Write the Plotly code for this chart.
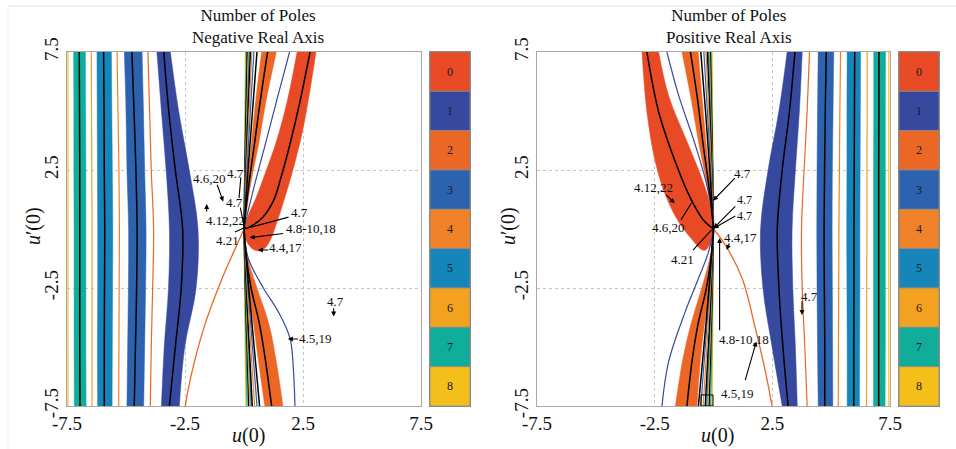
import plotly.graph_objects as go

FONT = "Liberation Serif"
W, H = 956, 449

# ---------------- colour key (number of poles) ----------------
POLE_COUNTS = ["0", "1", "2", "3", "4", "5", "6", "7", "8"]
POLE_COLORS = ["#e84a25", "#37499e", "#ec6726", "#2c62ae", "#ef8228",
               "#1585ba", "#f3a21f", "#10ad9a", "#f4bf1b"]

TICKS = [-7.5, -2.5, 2.5, 7.5]
TICK_TEXT = ["-7.5", "-2.5", "2.5", "7.5"]

# sample heights u'(0) for the far-field bands
V_FAR = [7.5, 5.0, 2.5, 0.0, -2.5, -5.0, -7.5]

# ---------------- Negative real axis (left panel) ----------------
NEG_L8 = [-7.46, -7.46, -7.46, -7.46, -7.46, -7.46, -7.46]
NEG_B7_L = [-7.22, -7.21, -7.21, -7.20, -7.20, -7.20, -7.19]
NEG_B7_R = [-6.72, -6.71, -6.70, -6.70, -6.70, -6.70, -6.69]
NEG_B7_C = [-6.98, -6.97, -6.96, -6.96, -6.96, -6.96, -6.95]
NEG_L6 = [-6.47, -6.46, -6.45, -6.44, -6.44, -6.44, -6.44]
NEG_B5_L = [-6.23, -6.22, -6.21, -6.20, -6.20, -6.21, -6.20]
NEG_B5_R = [-5.62, -5.60, -5.58, -5.56, -5.57, -5.58, -5.59]
NEG_B5_C = [-5.95, -5.93, -5.92, -5.90, -5.91, -5.92, -5.92]
NEG_L4 = [-5.38, -5.34, -5.30, -5.28, -5.29, -5.30, -5.31]
NEG_B3_L = [-5.07, -5.00, -4.96, -4.89, -4.90, -4.93, -4.96]
NEG_B3_R = [-4.32, -4.26, -4.21, -4.15, -4.17, -4.21, -4.25]
NEG_B3_C = [-4.75, -4.66, -4.58, -4.53, -4.55, -4.60, -4.65]
NEG_L2 = [-4.07, -4.00, -3.93, -3.83, -3.87, -3.93, -3.97]
NEG_B1_L = [-3.69, -3.50, -3.30, -3.16, -3.20, -3.38, -3.50]
NEG_B1_R = [-3.12, -2.77, -2.32, -1.95, -2.03, -2.51, -2.74]
NEG_B1_C = [-3.40, -3.19, -2.91, -2.60, -2.66, -2.91, -3.16]

NEG_UP_V = [0.0, 0.7, 2.0, 3.5, 5.5, 7.5]
NEG_UP_B2_L = [0.0, 0.04, 0.15, 0.30, 0.50, 0.75]
NEG_UP_B2_R = [0.0, 0.10, 0.30, 0.60, 0.95, 1.37]
NEG_UP_B2_C = [0.0, 0.07, 0.22, 0.43, 0.70, 1.00]
NEG_UP_BLUE = [0.0, 0.16, 0.48, 0.88, 1.40, 1.93]

NEG_LO_V = [0.0, -1.2, -2.5, -4.0, -5.5, -7.5]
NEG_LO_B2_L = [0.0, 0.05, 0.15, 0.40, 0.60, 0.88]
NEG_LO_B2_R = [0.0, 0.15, 0.55, 1.05, 1.35, 1.65]
NEG_LO_B2_C = [0.0, 0.10, 0.30, 0.65, 0.90, 1.17]
NEG_LO_BLUE_U = [0.0, 0.18, 0.82, 1.45, 1.95, 2.09, 2.16]
NEG_LO_BLUE_V = [0.0, -1.24, -2.5, -3.5, -4.63, -5.9, -7.5]
NEG_RED_LINE_U = [0.0, -0.44, -0.93, -1.71, -2.27, -2.49]
NEG_RED_LINE_V = [0.0, -0.98, -2.1, -4.22, -6.34, -7.5]

NEG_BLOB_U = [2.25, 1.85, 1.4, 0.95, 0.5, 0.15, 0.03, 0.04, 0.18, 0.42, 0.65,
              0.88, 1.1, 1.3, 1.5, 1.75, 2.1, 2.45, 2.75, 3.05]
NEG_BLOB_V = [7.5, 5.5, 3.8, 2.5, 1.3, 0.5, 0.1, -0.3, -0.65, -0.88, -0.93,
              -0.82, -0.5, 0.0, 0.6, 1.4, 2.6, 4.0, 5.6, 7.5]
NEG_BLOB_CU = [0.0, 0.3, 0.8, 1.25, 1.6, 1.95, 2.35, 2.8]
NEG_BLOB_CV = [0.0, 0.12, 0.5, 1.2, 2.3, 3.6, 5.3, 7.5]

THIN_UP_V = [0.0, 2.5, 5.0, 7.5]
THIN_LO_V = [0.0, -2.5, -5.0, -7.5]
THIN_COLS = [8, 7, -1, 6, 5, -1, 4, 3, -1]
NEG_UP_THIN = [[0, 0.02, 0.04, 0.06], [0, 0.03, 0.065, 0.10], [0, 0.04, 0.09, 0.14],
               [0, 0.055, 0.12, 0.18], [0, 0.065, 0.14, 0.22], [0, 0.08, 0.175, 0.27],
               [0, 0.10, 0.215, 0.33], [0, 0.13, 0.27, 0.42], [0, 0.17, 0.36, 0.55]]
NEG_LO_THIN = [[0, 0.025, 0.05, 0.08], [0, 0.04, 0.085, 0.13], [0, 0.06, 0.13, 0.20],
               [0, 0.075, 0.16, 0.25], [0, 0.09, 0.195, 0.30], [0, 0.10, 0.225, 0.35],
               [0, 0.135, 0.29, 0.45], [0, 0.165, 0.36, 0.55], [0, 0.2, 0.43, 0.66]]

# ---------------- Positive real axis (right panel) ----------------
POS_B1_L = [3.13, 2.78, 2.32, 2.00, 2.10, 2.49, 2.92]
POS_B1_R = [3.77, 3.65, 3.48, 3.34, 3.37, 3.48, 3.56]
POS_B1_C = [3.46, 3.23, 2.92, 2.71, 2.78, 2.95, 3.17]
POS_L2 = [4.08, 3.98, 3.85, 3.74, 3.77, 3.88, 3.98]
POS_B3_L = [4.45, 4.42, 4.40, 4.39, 4.40, 4.42, 4.45]
POS_B3_R = [5.11, 5.08, 5.05, 5.04, 5.05, 5.06, 5.07]
POS_B3_C = [4.79, 4.75, 4.72, 4.70, 4.71, 4.73, 4.73]
POS_L4 = [5.40, 5.37, 5.35, 5.33, 5.32, 5.31, 5.30]
POS_B5_L = [5.68, 5.67, 5.67, 5.66, 5.67, 5.68, 5.68]
POS_B5_R = [6.25, 6.24, 6.23, 6.22, 6.22, 6.21, 6.20]
POS_B5_C = [6.00, 5.99, 5.98, 5.97, 5.97, 5.96, 5.96]
POS_L6 = [6.53, 6.53, 6.52, 6.52, 6.51, 6.51, 6.50]
POS_B7_L = [6.81, 6.81, 6.80, 6.80, 6.80, 6.80, 6.80]
POS_B7_R = [7.31, 7.30, 7.30, 7.30, 7.30, 7.30, 7.29]
POS_B7_C = [7.03, 7.03, 7.02, 7.02, 7.02, 7.02, 7.02]
POS_L8 = [7.45, 7.45, 7.45, 7.45, 7.45, 7.45, 7.45]

POS_UP_B2_L = [0.0, -0.10, -0.30, -0.60, -0.95, -1.34]
POS_UP_B2_R = [0.0, -0.04, -0.15, -0.30, -0.48, -0.65]
POS_UP_B2_C = [0.0, -0.07, -0.22, -0.43, -0.68, -0.98]
POS_UP_BLUE_U = [0.0, -0.02, -0.28, -0.77, -1.48, -1.98]
POS_UP_BLUE_V = [0.0, 0.44, 1.85, 3.55, 5.66, 7.5]

POS_LO_B2_L = [0.0, -0.15, -0.50, -0.95, -1.30, -1.62]
POS_LO_B2_R = [0.0, -0.05, -0.15, -0.38, -0.55, -0.70]
POS_LO_B2_C = [0.0, -0.10, -0.30, -0.65, -0.90, -1.13]
POS_LO_BLUE_U = [0.0, -0.21, -0.64, -1.2, -1.91, -2.19]
POS_LO_BLUE_V = [0.0, -0.97, -2.1, -3.5, -5.63, -7.5]
POS_RED_LINE_U = [0.0, 0.51, 1.22, 1.78, 2.21, 2.49]
POS_RED_LINE_V = [0.0, -0.69, -2.1, -4.22, -6.06, -7.5]

POS_BLOB_U = [-2.33, -1.91, -1.06, -0.49, -0.1, 0.0, -0.05, -0.18, -0.36, -0.55,
              -0.91, -1.48, -2.04, -2.47, -2.83, -3.04]
POS_BLOB_V = [7.5, 5.66, 3.55, 2.13, 0.9, 0.05, -0.35, -0.7, -0.9, -0.85,
              -0.45, 0.3, 1.43, 2.84, 4.96, 7.5]
POS_BLOB_CU = [0.0, -0.43, -1.0, -1.62, -2.33, -2.83]
POS_BLOB_CV = [0.0, 0.38, 1.35, 2.84, 4.96, 7.5]

POS_UP_THIN = [[0, -0.02, -0.04, -0.06], [0, -0.03, -0.065, -0.10], [0, -0.04, -0.09, -0.14],
               [0, -0.05, -0.11, -0.17], [0, -0.06, -0.13, -0.21], [0, -0.075, -0.16, -0.26],
               [0, -0.09, -0.2, -0.32], [0, -0.12, -0.26, -0.41], [0, -0.16, -0.34, -0.54]]
POS_LO_THIN = [[0, -0.02, -0.04, -0.06], [0, -0.035, -0.075, -0.12], [0, -0.055, -0.12, -0.19],
               [0, -0.07, -0.15, -0.24], [0, -0.085, -0.185, -0.29], [0, -0.1, -0.22, -0.35],
               [0, -0.13, -0.28, -0.44], [0, -0.16, -0.35, -0.54], [0, -0.19, -0.41, -0.64]]

# ---------------- equation labels ----------------
NEG_LABELS = [("4.6,20", -1.48, 2.16), ("4.7", -0.38, 2.37), ("4.7", -0.42, 1.14),
              ("4.12,22", -0.80, 0.34), ("4.21", -0.72, -0.47), ("4.7", 2.37, 0.72),
              ("4.8-10,18", 2.84, 0.04), ("4.4,17", 1.74, -0.80), ("4.7", 3.86, -3.09),
              ("4.5,19", 3.05, -4.62)]
# (tail u, tail v, head u, head v, arrowhead?)
NEG_ARROWS = [(-1.16, 1.94, -0.88, 1.16, 1), (-0.13, 2.25, -0.21, 1.31, 0),
              (-0.17, 0.97, 0.0, 0.13, 0), (-1.58, 0.68, -1.58, 1.06, 1),
              (-0.45, -0.16, 0.07, 0.07, 0), (1.95, 0.52, 0.12, 0.03, 0),
              (1.72, -0.18, 0.24, -0.37, 1), (1.09, -0.89, 0.59, -0.89, 1),
              (3.80, -3.29, 3.80, -3.71, 1), (2.36, -4.66, 1.86, -4.66, 1)]
POS_LABELS = [("4.7", 1.25, 2.37), ("4.12,22", -2.53, 1.74), ("4.6,20", -1.93, 0.08),
              ("4.7<br>4.7", 1.30, 0.91), ("4.21", -1.30, -1.31),
              ("4.4,17", 1.13, -0.34), ("4.8-10,18", 1.30, -4.70), ("4.5,19", 1.04, -6.95),
              ("4.7", 4.10, -2.88)]
POS_ARROWS = [(0.97, 2.22, -0.02, 1.20, 1), (-2.07, 1.51, -1.65, 1.09, 1),
              (-1.42, 0.33, -0.93, 1.11, 0), (0.99, 1.02, 0.0, 0.03, 1),
              (0.99, 0.59, 0.0, 0.03, 1), (-0.93, -0.96, -0.08, -0.04, 0),
              (0.70, -0.54, 0.56, -0.89, 1), (0.26, -4.35, 0.26, -0.38, 1),
              (1.33, -6.47, 1.82, -4.77, 1), (3.76, -3.00, 3.76, -3.64, 1)]

fig = go.Figure()


def col(i):
    return "black" if i < 0 else POLE_COLORS[i]


def band(xa, ya, left, right, vs, ci):
    fig.add_trace(go.Scatter(x=left, y=vs, mode="lines",
                             line=dict(color=col(ci), width=0.5, shape="spline"),
                             xaxis=xa, yaxis=ya, hoverinfo="skip", showlegend=False))
    fig.add_trace(go.Scatter(x=right, y=vs, mode="lines", fill="tonextx", fillcolor=col(ci),
                             line=dict(color=col(ci), width=0.5, shape="spline"),
                             xaxis=xa, yaxis=ya, hoverinfo="skip", showlegend=False))


def poly(xa, ya, u, v, ci):
    fig.add_trace(go.Scatter(x=u, y=v, mode="lines",
                             fill="toself", fillcolor=col(ci),
                             line=dict(color=col(ci), width=0.5, shape="spline"),
                             xaxis=xa, yaxis=ya, hoverinfo="skip", showlegend=False))


def curve(xa, ya, u, v, ci, w=1.2):
    fig.add_trace(go.Scatter(x=u, y=v, mode="lines",
                             line=dict(color=col(ci), width=w, shape="spline"),
                             xaxis=xa, yaxis=ya, hoverinfo="skip", showlegend=False))


def panel(xa, ya, far, fans):
    for L, R, C, ci in far["bands"]:
        band(xa, ya, L, R, V_FAR, ci)
    for U, ci in far["lines"]:
        curve(xa, ya, U, V_FAR, ci, 1.2)
    for L, R, C, ci in far["bands"]:
        curve(xa, ya, C, V_FAR, -1, 1.5)
    poly(xa, ya, fans["blob_u"], fans["blob_v"], 0)
    band(xa, ya, fans["up_l"], fans["up_r"], NEG_UP_V, 2)
    band(xa, ya, fans["lo_l"], fans["lo_r"], NEG_LO_V, 2)
    for U, ci in zip(fans["up_thin"], THIN_COLS):
        curve(xa, ya, U, THIN_UP_V, ci, 1.5 if ci < 0 else 1.2)
    for U, ci in zip(fans["lo_thin"], THIN_COLS):
        curve(xa, ya, U, THIN_LO_V, ci, 1.5 if ci < 0 else 1.2)
    curve(xa, ya, fans["up_blue_u"], fans["up_blue_v"], 1, 1.2)
    curve(xa, ya, fans["lo_blue_u"], fans["lo_blue_v"], 1, 1.2)
    curve(xa, ya, fans["red_u"], fans["red_v"], 2, 1.3)
    curve(xa, ya, fans["up_c"], NEG_UP_V, -1, 1.5)
    curve(xa, ya, fans["lo_c"], NEG_LO_V, -1, 1.5)
    curve(xa, ya, fans["blob_cu"], fans["blob_cv"], -1, 1.5)


panel("x", "y",
      dict(bands=[(NEG_B7_L, NEG_B7_R, NEG_B7_C, 7), (NEG_B5_L, NEG_B5_R, NEG_B5_C, 5),
                  (NEG_B3_L, NEG_B3_R, NEG_B3_C, 3), (NEG_B1_L, NEG_B1_R, NEG_B1_C, 1)],
           lines=[(NEG_L8, 8), (NEG_L6, 6), (NEG_L4, 4), (NEG_L2, 2)]),
      dict(blob_u=NEG_BLOB_U, blob_v=NEG_BLOB_V, blob_cu=NEG_BLOB_CU, blob_cv=NEG_BLOB_CV,
           up_l=NEG_UP_B2_L, up_r=NEG_UP_B2_R, up_c=NEG_UP_B2_C,
           lo_l=NEG_LO_B2_L, lo_r=NEG_LO_B2_R, lo_c=NEG_LO_B2_C,
           up_thin=NEG_UP_THIN, lo_thin=NEG_LO_THIN,
           up_blue_u=NEG_UP_BLUE, up_blue_v=NEG_UP_V,
           lo_blue_u=NEG_LO_BLUE_U, lo_blue_v=NEG_LO_BLUE_V,
           red_u=NEG_RED_LINE_U, red_v=NEG_RED_LINE_V))

panel("x2", "y2",
      dict(bands=[(POS_B7_L, POS_B7_R, POS_B7_C, 7), (POS_B5_L, POS_B5_R, POS_B5_C, 5),
                  (POS_B3_L, POS_B3_R, POS_B3_C, 3), (POS_B1_L, POS_B1_R, POS_B1_C, 1)],
           lines=[(POS_L8, 8), (POS_L6, 6), (POS_L4, 4), (POS_L2, 2)]),
      dict(blob_u=POS_BLOB_U, blob_v=POS_BLOB_V, blob_cu=POS_BLOB_CU, blob_cv=POS_BLOB_CV,
           up_l=POS_UP_B2_L, up_r=POS_UP_B2_R, up_c=POS_UP_B2_C,
           lo_l=POS_LO_B2_L, lo_r=POS_LO_B2_R, lo_c=POS_LO_B2_C,
           up_thin=POS_UP_THIN, lo_thin=POS_LO_THIN,
           up_blue_u=POS_UP_BLUE_U, up_blue_v=POS_UP_BLUE_V,
           lo_blue_u=POS_LO_BLUE_U, lo_blue_v=POS_LO_BLUE_V,
           red_u=POS_RED_LINE_U, red_v=POS_RED_LINE_V))

# colour keys
for xa, ya in (("x3", "y3"), ("x4", "y4")):
    fig.add_trace(go.Bar(x=[0] * 9, y=[1] * 9, base=[8 - i for i in range(9)],
                         marker=dict(color=POLE_COLORS, line=dict(color="#8a8a8a", width=0.8)),
                         text=POLE_COUNTS, textposition="inside", insidetextanchor="middle",
                         textangle=0, textfont=dict(family=FONT, size=12, color="#1a1a2a"),
                         width=1, xaxis=xa, yaxis=ya, hoverinfo="skip", showlegend=False))


def px2x(p):
    return p / W


def px2y(p):
    return 1 - p / H


ax_common = dict(range=[-7.5, 7.5], tickvals=TICKS, ticktext=TICK_TEXT, showgrid=True,
                 gridcolor="#c4c4c4", griddash="dot", gridwidth=1, zeroline=False,
                 showline=True, linecolor="#a8a8a8", linewidth=1, mirror=True, ticks="",
                 automargin=False, tickfont=dict(family=FONT, size=19, color="#111"))
ydom = [px2y(406), px2y(52)]
cb_x = dict(range=[-0.5, 0.5], showticklabels=False, showgrid=False, zeroline=False,
            showline=True, linecolor="#8a8a8a", mirror=True, ticks="", automargin=False)
cb_y = dict(domain=ydom, range=[0, 9], showticklabels=False, showgrid=False, zeroline=False,
            showline=True, linecolor="#8a8a8a", mirror=True, ticks="", automargin=False)

annotations = []
shapes = []
for xr, yr, labels, arrows in (("x", "y", NEG_LABELS, NEG_ARROWS),
                               ("x2", "y2", POS_LABELS, POS_ARROWS)):
    for t, u, v in labels:
        annotations.append(dict(x=u, y=v, xref=xr, yref=yr, text=t, showarrow=False,
                                xanchor="center", yanchor="middle",
                                font=dict(family=FONT, size=12 if "<br>" in t else 13,
                                          color="#111")))
    for tu, tv, hu, hv, hd in arrows:
        annotations.append(dict(x=hu, y=hv, ax=tu, ay=tv, xref=xr, yref=yr, axref=xr,
                                ayref=yr, text="", showarrow=True, arrowhead=2 if hd else 0,
                                arrowsize=0.9, arrowwidth=1.1, arrowcolor="black", standoff=0))

for cx, ttl in ((258, "Number of Poles<br>Negative Real Axis"),
                (729, "Number of Poles<br>Positive Real Axis")):
    annotations.append(dict(x=px2x(cx), y=px2y(26.5), xref="paper", yref="paper", text=ttl,
                            xanchor="center", yanchor="middle", showarrow=False,
                            font=dict(family=FONT, size=17, color="#111")))

for cx in (248, 717):
    annotations.append(dict(x=px2x(cx), y=px2y(435), xref="paper", yref="paper",
                            text="<i>u</i>(0)", showarrow=False, xanchor="center",
                            yanchor="middle", font=dict(family=FONT, size=20, color="#111")))
for cx in (33, 508):
    annotations.append(dict(x=px2x(cx), y=px2y(226), xref="paper", yref="paper",
                            text="<i>u</i>′(0)", showarrow=False, textangle=-90,
                            xanchor="center", yanchor="middle",
                            font=dict(family=FONT, size=20, color="#111")))

shapes.append(dict(type="rect", xref="x2", yref="y2", x0=-0.53, x1=-0.02, y0=-7.5, y1=-7.03,
                   line=dict(color="black", width=1)))
shapes.append(dict(type="line", xref="paper", yref="paper", x0=px2x(8), x1=1,
                   y0=px2y(6), y1=px2y(6), line=dict(color="#e4e4e4", width=1)))
shapes.append(dict(type="line", xref="paper", yref="paper", x0=px2x(8), x1=px2x(8),
                   y0=0, y1=px2y(6), line=dict(color="#ececec", width=1)))

fig.update_layout(
    width=W, height=H, margin=dict(l=0, r=0, t=0, b=0, autoexpand=False),
    paper_bgcolor="white", plot_bgcolor="white", barmode="overlay", showlegend=False,
    xaxis=dict(domain=[px2x(67), px2x(421)], anchor="y", **ax_common),
    yaxis=dict(domain=ydom, anchor="x", tickangle=-90, **ax_common),
    xaxis2=dict(domain=[px2x(537), px2x(890)], anchor="y2", **ax_common),
    yaxis2=dict(domain=ydom, anchor="x2", tickangle=-90, **ax_common),
    xaxis3=dict(domain=[px2x(430), px2x(470)], anchor="y3", **cb_x),
    yaxis3=dict(anchor="x3", **cb_y),
    xaxis4=dict(domain=[px2x(899), px2x(939)], anchor="y4", **cb_x),
    yaxis4=dict(anchor="x4", **cb_y),
    annotations=annotations, shapes=shapes,
)

fig.write_html("out.html")
